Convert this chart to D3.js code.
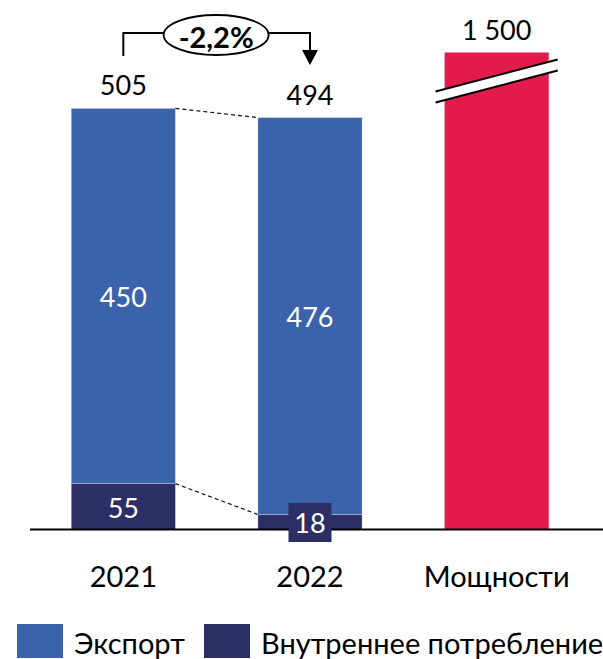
<!DOCTYPE html>
<html>
<head>
<meta charset="utf-8">
<script src="https://cdn.jsdelivr.net/npm/d3@7/dist/d3.min.js"></script>
<style>
  html, body { margin: 0; padding: 0; background: #fff; }
  svg { display: block; font-family: Lato, "Open Sans", sans-serif; }
</style>
</head>
<body>
<svg id="chart" width="603" height="659"></svg>
<script>
// ---- data ----
const categories = ["2021", "2022", "Мощности"];
const exportValues = [450, 476, null];
const domesticValues = [55, 18, null];
const capacityValues = [null, null, 1500];
const totalLabels = ["505", "494", "1 500"];
const changeLabel = "-2,2%";
const seriesNames = ["Экспорт", "Внутреннее потребление"];

// ---- layout ----
const W = 603, H = 659;
const baseY = 529.5;
const colors = { exp: "#3b63ac", dom: "#2b2f65", cap: "#e31b4c" };
const svg = d3.select("#chart");

const x = d3.scaleBand().domain(categories).range([30, 590]).paddingInner(0.442).paddingOuter(0.221);
const y = d3.scaleLinear().domain([0, 635]).range([baseY, 0]);
const breakCap = y.invert(52.5); // broken bar drawn to this display value

const data = categories.map((c, i) => ({
  cat: c,
  dom: domesticValues[i],
  exp: exportValues[i],
  cap: capacityValues[i],
  label: totalLabels[i]
}));

const bw = x.bandwidth();

// stacked bars
data.forEach(d => {
  if (d.dom != null) {
    svg.append("rect")
      .attr("x", x(d.cat)).attr("width", bw)
      .attr("y", y(d.dom)).attr("height", y(0) - y(d.dom))
      .attr("fill", colors.dom)
      .attr("stroke", "rgba(255,255,255,0.35)").attr("stroke-width", 0.75);
    svg.append("rect")
      .attr("x", x(d.cat)).attr("width", bw)
      .attr("y", y(d.dom + d.exp)).attr("height", y(d.dom) - y(d.dom + d.exp))
      .attr("fill", colors.exp)
      .attr("stroke", "rgba(255,255,255,0.35)").attr("stroke-width", 0.75);
  }
  if (d.cap != null) {
    const v = Math.min(d.cap, breakCap);
    svg.append("rect")
      .attr("x", x(d.cat)).attr("width", bw)
      .attr("y", y(v)).attr("height", y(0) - y(v))
      .attr("fill", colors.cap);
    // break marks
    const top = y(v);
    const x0 = x(d.cat) - 9, x1 = x(d.cat) + bw + 9;
    svg.append("polygon")
      .attr("points", [[x0, top + 39], [x1, top + 7], [x1, top + 18], [x0, top + 50]].join(" "))
      .attr("fill", "#fff");
    [[39, 7], [50, 18]].forEach(([a, b]) => {
      svg.append("line")
        .attr("x1", x0).attr("y1", top + a).attr("x2", x1).attr("y2", top + b)
        .attr("stroke", "#000").attr("stroke-width", 2);
    });
  }
});

// dashed connectors between 2021 and 2022
const a = data[0], b = data[1];
[[a.dom + a.exp, b.dom + b.exp], [a.dom, b.dom]].forEach(([v1, v2]) => {
  svg.append("line")
    .attr("x1", x(a.cat) + bw).attr("y1", y(v1))
    .attr("x2", x(b.cat)).attr("y2", y(v2))
    .attr("stroke", "#111").attr("stroke-width", 1.2)
    .attr("stroke-dasharray", "4,3");
});

// baseline
svg.append("line")
  .attr("x1", 30).attr("x2", W).attr("y1", baseY).attr("y2", baseY)
  .attr("stroke", "#000").attr("stroke-width", 2);

// total labels
data.forEach(d => {
  const tot = d.cap != null ? Math.min(d.cap, breakCap) : d.dom + d.exp;
  svg.append("text")
    .attr("x", x(d.cat) + bw / 2).attr("y", y(tot) - 13)
    .attr("text-anchor", "middle")
    .attr("font-size", 27).attr("fill", "#000")
    .text(d.label);
});

// inner labels
data.forEach(d => {
  if (d.exp != null) {
    svg.append("text")
      .attr("x", x(d.cat) + bw / 2).attr("y", (y(d.dom) + y(d.dom + d.exp)) / 2)
      .attr("text-anchor", "middle").attr("dominant-baseline", "central")
      .attr("font-size", 27).attr("fill", "#fff")
      .text(d.exp);
  }
  if (d.dom != null) {
    const cx = x(d.cat) + bw / 2;
    const small = (y(0) - y(d.dom)) < 40;
    const cy = small ? baseY - 7 : (y(0) + y(d.dom)) / 2 + 1;
    if (small) {
      svg.append("rect")
        .attr("x", cx - 21.5).attr("y", cy - 19.5)
        .attr("width", 43).attr("height", 39)
        .attr("fill", colors.dom);
    }
    svg.append("text")
      .attr("x", cx).attr("y", cy)
      .attr("text-anchor", "middle").attr("dominant-baseline", "central")
      .attr("font-size", 27).attr("fill", "#fff")
      .text(d.dom);
  }
});

// category labels
categories.forEach(c => {
  svg.append("text")
    .attr("x", x(c) + bw / 2).attr("y", 587)
    .attr("text-anchor", "middle")
    .attr("font-size", 29).attr("fill", "#000")
    .text(c);
});

// change annotation
const c1 = x(a.cat) + bw / 2, c2 = x(b.cat) + bw / 2;
const ex = (c1 + c2) / 2 - 0.5, ey = 35, rx = 52.5, ry = 20;
svg.append("path")
  .attr("d", `M${c1},56 V${ey - 2} H${ex - rx} M${ex + rx},${ey - 2} H${c2} V52`)
  .attr("fill", "none").attr("stroke", "#000").attr("stroke-width", 2);
svg.append("path")
  .attr("d", `M${c2 - 8},50 L${c2 + 8},50 L${c2},65 Z`)
  .attr("fill", "#000");
svg.append("ellipse")
  .attr("cx", ex).attr("cy", ey).attr("rx", rx).attr("ry", ry)
  .attr("fill", "#fff").attr("stroke", "#000").attr("stroke-width", 1.8);
svg.append("text")
  .attr("x", ex).attr("y", ey + 1)
  .attr("text-anchor", "middle").attr("dominant-baseline", "central")
  .attr("font-size", 29).attr("font-weight", "bold").attr("fill", "#000")
  .text(changeLabel);

// legend
const legendItems = [
  { name: seriesNames[0], color: colors.exp, x: 17 },
  { name: seriesNames[1], color: colors.dom, x: 204 }
];
legendItems.forEach(it => {
  svg.append("rect")
    .attr("x", it.x).attr("y", 624).attr("width", 46).attr("height", 34)
    .attr("fill", it.color);
  svg.append("text")
    .attr("x", it.x + 57).attr("y", 654)
    .attr("font-size", 29).attr("fill", "#000")
    .text(it.name);
});
</script>
</body>
</html>
